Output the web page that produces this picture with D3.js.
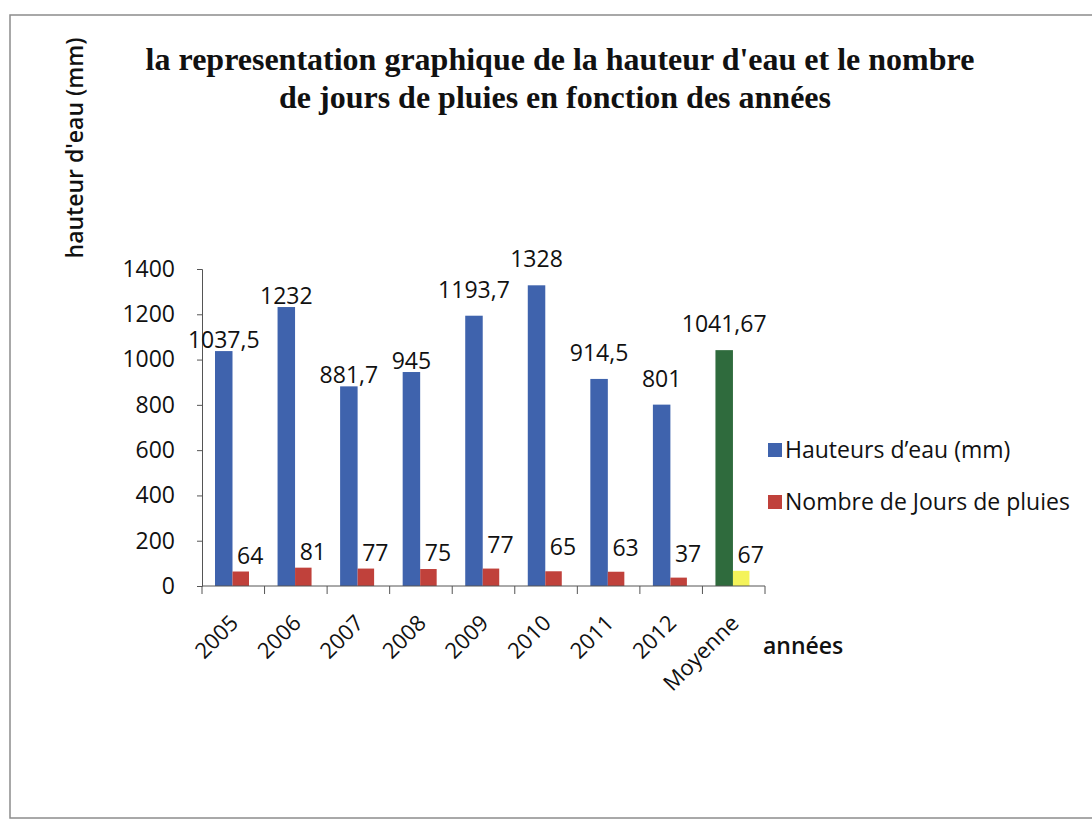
<!DOCTYPE html>
<html lang="fr">
<head>
<meta charset="UTF-8">
<title>hauteur d'eau et jours de pluies</title>
<script src="https://d3js.org/d3.v7.min.js"></script>
<style>
  * { margin: 0; padding: 0; }
  body { background: #fff; }
  svg { display: block; }
</style>
</head>
<body>
<div id="chart"></div>
<script>
// données
const annees = ["2005", "2006", "2007", "2008", "2009", "2010", "2011", "2012", "Moyenne"];
const hauteurs = [1037.5, 1232, 881.7, 945, 1193.7, 1328, 914.5, 801, 1041.67];
const joursPluie = [64, 81, 77, 75, 77, 65, 63, 37, 67];
const hauteurLabels = ["1037,5", "1232", "881,7", "945", "1193,7", "1328", "914,5", "801", "1041,67"];
const joursLabels = ["64", "81", "77", "75", "77", "65", "63", "37", "67"];
const yTicks = [0, 200, 400, 600, 800, 1000, 1200, 1400];
const series = ["Hauteurs d\u2019eau (mm)", "Nombre de Jours de pluies"];

const W = 1092, H = 823;
const font = "'Open Sans', sans-serif";
const fs = "23px";

const svg = d3.select("#chart").append("svg")
    .attr("width", W)
    .attr("height", H);

// cadre
svg.append("rect")
    .attr("x", 10).attr("y", 15)
    .attr("width", 1100).attr("height", 803)
    .attr("fill", "#fff")
    .attr("stroke", "#8c8c8c")
    .attr("stroke-width", 1.5);

// titre
const title = svg.append("text")
    .attr("text-anchor", "middle")
    .style("font-family", "'Liberation Serif', 'Times New Roman', serif")
    .style("font-weight", "bold")
    .style("font-size", "32px")
    .attr("fill", "#111");
title.append("tspan").attr("x", 560).attr("y", 70)
    .text("la representation graphique de la hauteur d'eau et le nombre");
title.append("tspan").attr("x", 555).attr("y", 108)
    .text("de jours de pluies en fonction des années");

// titre axe y
svg.append("text")
    .attr("transform", "translate(83,148) rotate(-90)")
    .attr("text-anchor", "middle")
    .style("font-family", font)
    .style("font-weight", 600)
    .style("font-size", "23px")
    .attr("fill", "#111")
    .text("hauteur d'eau (mm)");

const x = d3.scaleBand().domain(annees).range([202, 765]).padding(0);
const inner = d3.scaleBand().domain(["h", "j"]).range([13, 48]);
const y = d3.scaleLinear().domain([0, 1400]).range([586, 269]);

// axe y
const yAxis = svg.append("g")
    .attr("transform", "translate(202,0)")
    .call(d3.axisLeft(y).tickValues(yTicks).tickFormat(d3.format("d")).tickSize(5).tickPadding(22));
yAxis.select(".domain").attr("stroke", "#555");
yAxis.selectAll(".tick line").attr("stroke", "#555");
yAxis.selectAll("text")
    .style("font-family", font)
    .style("font-size", fs)
    .attr("fill", "#111");

// barres
const blue = "#3f63ad", red = "#c0413b", green = "#2f6b3d", yellow = "#f4f35a";
const last = annees.length - 1;

svg.append("g").selectAll("rect")
    .data(annees)
    .join("rect")
    .attr("x", d => x(d) + inner("h"))
    .attr("width", inner.bandwidth())
    .attr("y", (d, i) => y(hauteurs[i]))
    .attr("height", (d, i) => y(0) - y(hauteurs[i]))
    .attr("fill", (d, i) => i === last ? green : blue);

svg.append("g").selectAll("rect")
    .data(annees)
    .join("rect")
    .attr("x", d => x(d) + inner("j"))
    .attr("width", inner.bandwidth() - 1)
    .attr("y", (d, i) => y(joursPluie[i]))
    .attr("height", (d, i) => y(0) - y(joursPluie[i]))
    .attr("fill", (d, i) => i === last ? yellow : red);

// axe x (graduations entre les catégories)
const xg = svg.append("g");
xg.append("line")
    .attr("x1", 202).attr("x2", 765)
    .attr("y1", y(0)).attr("y2", y(0))
    .attr("stroke", "#555");
xg.selectAll("line.tk")
    .data(annees.concat(["end"]))
    .join("line")
    .attr("class", "tk")
    .attr("x1", (d, i) => 202 + i * x.bandwidth())
    .attr("x2", (d, i) => 202 + i * x.bandwidth())
    .attr("y1", y(0)).attr("y2", y(0) + 8)
    .attr("stroke", "#555");
xg.selectAll("text")
    .data(annees)
    .join("text")
    .attr("transform", d => `translate(${x(d) + x.bandwidth() / 2 + 1},${y(0) + 33}) rotate(-45)`)
    .attr("text-anchor", "end")
    .attr("dy", "0.35em")
    .style("font-family", font)
    .style("font-size", "22px")
    .attr("fill", "#111")
    .text(d => d);

svg.append("text")
    .attr("x", 763).attr("y", 654)
    .style("font-family", font)
    .style("font-weight", 600)
    .style("font-size", fs)
    .attr("fill", "#111")
    .text("années");

// étiquettes de valeurs
svg.append("g").selectAll("text")
    .data(annees)
    .join("text")
    .attr("x", d => x(d) + inner("h") + inner.bandwidth() / 2)
    .attr("y", (d, i) => y(hauteurs[i]) - (i < 4 ? 3 : 18))
    .attr("text-anchor", "middle")
    .style("font-family", font)
    .style("font-size", fs)
    .attr("fill", "#111")
    .text((d, i) => hauteurLabels[i]);

svg.append("g").selectAll("text")
    .data(annees)
    .join("text")
    .attr("x", d => x(d) + inner("j") + inner.bandwidth() / 2 + 9)
    .attr("y", (d, i) => y(joursPluie[i]) - (i >= 4 && i < 8 ? 16 : 8))
    .attr("text-anchor", "middle")
    .style("font-family", font)
    .style("font-size", fs)
    .attr("fill", "#111")
    .text((d, i) => joursLabels[i]);

// légende
const legend = svg.append("g").selectAll("g")
    .data(series)
    .join("g")
    .attr("transform", (d, i) => `translate(768,${443 + i * 52})`);
legend.append("rect")
    .attr("width", 14).attr("height", 14)
    .attr("fill", (d, i) => i === 0 ? blue : red);
legend.append("text")
    .attr("x", 17).attr("y", 15)
    .style("font-family", font)
    .style("font-size", fs)
    .attr("fill", "#111")
    .text(d => d);
</script>
</body>
</html>
